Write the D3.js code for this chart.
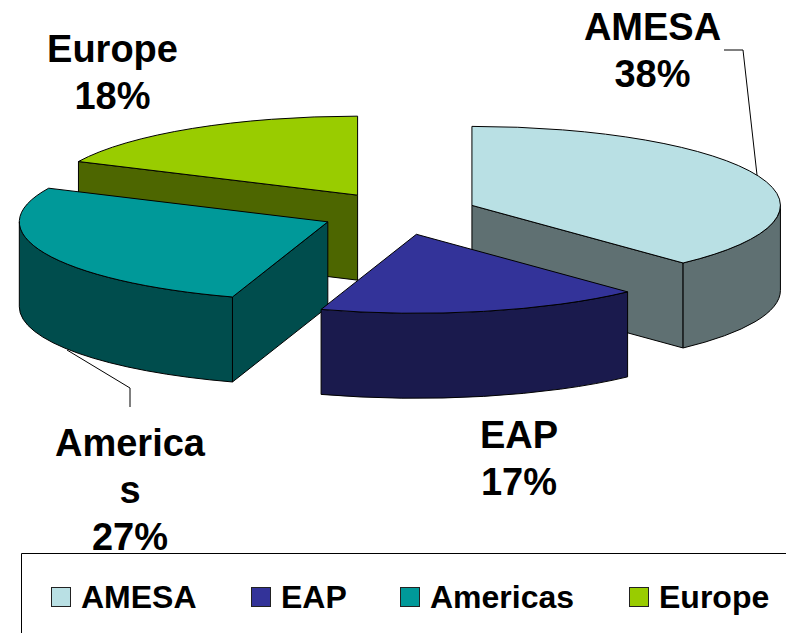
<!DOCTYPE html>
<html>
<head>
<meta charset="utf-8">
<script src="https://cdn.jsdelivr.net/npm/d3@7"></script>
<style>
  html, body { margin: 0; padding: 0; background: #fff; overflow: hidden; }
  svg { display: block; }
  text { font-family: "Liberation Sans", Arial, sans-serif; font-weight: bold; fill: #000; }
</style>
</head>
<body>
<svg id="chart" width="786" height="633"></svg>
<script>
// Regional split
const regions = ["AMESA", "EAP", "Americas", "Europe"];
const shares = [38, 17, 27, 18];

// Face colours per region, and the darker colour of the walls
const topColors = ["#B9E0E4", "#333399", "#009999", "#99CC00"];
const wallColors = ["#5F7072", "#1A1A4D", "#004D4D", "#4D6600"];

// Pie geometry: an ellipse extruded downwards, with every slice pulled out
const cx = 399.4, cy = 213.3, rx = 308.5, ry = 79, depth = 85;
const explodeX = 78, explodeY = 21.5;
const drawOrder = [3, 0, 2, 1];   // back to front

// First baseline and centre of each slice label
const labelSpots = [
  { x: 652.5, y: 40 },
  { x: 519, y: 448 },
  { x: 130, y: 456 },
  { x: 112.5, y: 62 }
];
const labelLineHeight = 47;
const maxLabelChars = 7;          // long names break onto a second line

const svg = d3.select("#chart");
const arcs = d3.pie().sort(null).value(d => d)(shares);
const rad = Math.PI / 2;

function onRim(apex, a, dy = 0) {
  return [apex[0] + rx * Math.sin(a), apex[1] - ry * Math.cos(a) + dy];
}

// Elliptical arc from angle a to b, running clockwise on screen
function rimArc(apex, a, b, dy = 0, forward = true) {
  const end = onRim(apex, forward ? b : a, dy);
  const large = Math.abs(b - a) > Math.PI ? 1 : 0;
  return `A${rx},${ry} 0 ${large} ${forward ? 1 : 0} ${end[0]},${end[1]}`;
}

function quad(p, q) {
  return `M${p}L${q}L${q[0]},${q[1] + depth}L${p[0]},${p[1] + depth}Z`;
}

const slices = svg.append("g").selectAll("g")
  .data(drawOrder.map(i => ({ i, arc: arcs[i] })))
  .join("g")
  .attr("stroke", "#000")
  .attr("stroke-width", 1)
  .attr("stroke-linejoin", "round");

slices.each(function ({ i, arc }) {
  const g = d3.select(this);
  const mid = (arc.startAngle + arc.endAngle) / 2;
  const apex = [cx + explodeX * Math.sin(mid), cy - explodeY * Math.cos(mid)];
  const ps = onRim(apex, arc.startAngle);
  const pe = onRim(apex, arc.endAngle);

  // Straight cut walls that face the viewer
  if (ps[0] < apex[0] - 0.01) g.append("path").attr("d", quad(apex, ps)).attr("fill", wallColors[i]);
  if (pe[0] > apex[0] + 0.01) g.append("path").attr("d", quad(apex, pe)).attr("fill", wallColors[i]);

  // Curved outer wall, only on the front half of the ellipse
  const a0 = Math.max(arc.startAngle, rad);
  const a1 = Math.min(arc.endAngle, 3 * rad);
  if (a1 > a0) {
    const s = onRim(apex, a0), e = onRim(apex, a1);
    g.append("path")
      .attr("d", `M${s}${rimArc(apex, a0, a1)}L${e[0]},${e[1] + depth}${rimArc(apex, a0, a1, depth, false)}Z`)
      .attr("fill", wallColors[i]);
  }

  // Top face
  g.append("path")
    .attr("d", `M${apex}L${ps}${rimArc(apex, arc.startAngle, arc.endAngle)}Z`)
    .attr("fill", topColors[i]);
});

// Leader lines for the two labels set away from their slices
const leaders = [
  [[724, 50], [743, 50], [757, 175]],
  [[67, 350], [130, 388], [130, 407]]
];
svg.append("g").selectAll("path").data(leaders).join("path")
  .attr("d", d3.line())
  .attr("fill", "none")
  .attr("stroke", "#000")
  .attr("stroke-width", 1);

// Slice labels: name then percentage
function labelLines(i) {
  const total = d3.sum(shares);
  const name = regions[i];
  const lines = [];
  for (let k = 0; k < name.length; k += maxLabelChars) lines.push(name.slice(k, k + maxLabelChars));
  lines.push(d3.format(".0%")(shares[i] / total));
  return lines;
}

svg.append("g").selectAll("text").data(regions).join("text")
  .attr("font-size", 38)
  .attr("text-anchor", "middle")
  .each(function (_, i) {
    d3.select(this).selectAll("tspan").data(labelLines(i)).join("tspan")
      .attr("x", labelSpots[i].x)
      .attr("y", (_, k) => labelSpots[i].y + k * labelLineHeight)
      .text(d => d);
  });

// Legend: open frame along the top and left, swatches in one row
const legendSwatchX = [51, 251, 400, 629];
const legend = svg.append("g");
legend.append("path")
  .attr("d", "M21.5,633V553.5H786")
  .attr("fill", "none")
  .attr("stroke", "#000")
  .attr("stroke-width", 1);

const items = legend.selectAll("g").data(regions).join("g")
  .attr("transform", (_, i) => `translate(${legendSwatchX[i]},0)`);
items.append("rect")
  .attr("x", 0.5).attr("y", 587.5).attr("width", 19).attr("height", 19)
  .attr("fill", (_, i) => topColors[i])
  .attr("stroke", "#222")
  .attr("stroke-width", 1);
items.append("text")
  .attr("x", 30).attr("y", 608)
  .attr("font-size", 32)
  .text(d => d);
</script>
</body>
</html>
